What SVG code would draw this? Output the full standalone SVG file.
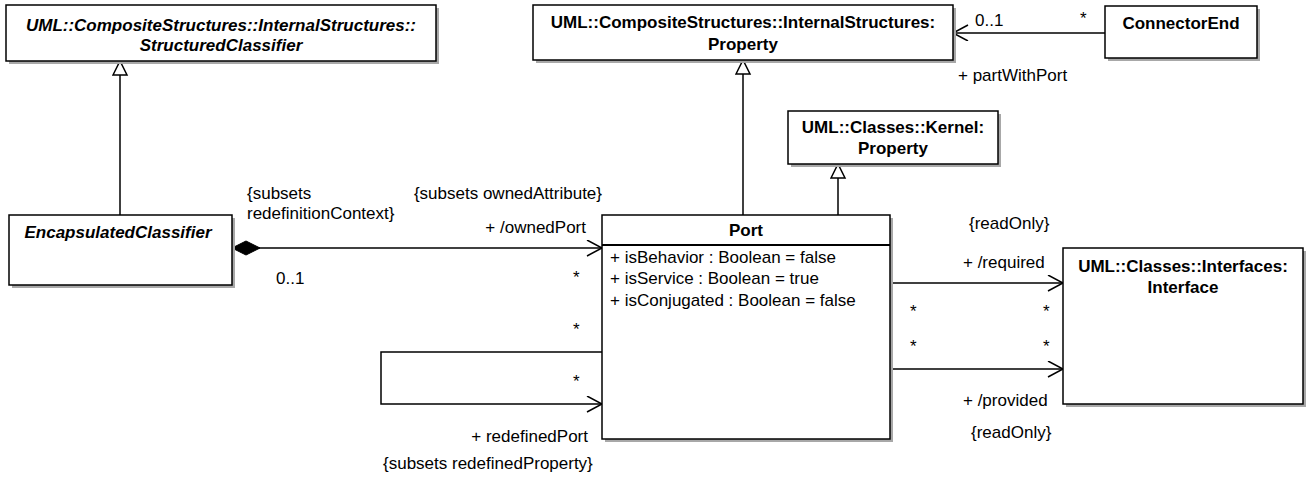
<svg xmlns="http://www.w3.org/2000/svg" width="1309" height="483" viewBox="0 0 1309 483">
<defs>
<style>
.box{fill:#fff;stroke:#000;stroke-width:1.5}
.sh{fill:#a8a8a8}
.t{font-family:"Liberation Sans",Arial,sans-serif;font-size:17px;fill:#000}
.b{font-weight:bold}
.i{font-style:italic}
.m{text-anchor:middle}
.e{text-anchor:end}
.ln{fill:none;stroke:#000;stroke-width:1.5}
</style>
<marker id="open" markerWidth="18" markerHeight="18" refX="16" refY="8" orient="auto" markerUnits="userSpaceOnUse">
<path d="M1,0 L16,8 L1,16" fill="none" stroke="#000" stroke-width="1.5"/>
</marker>
<marker id="gen" markerWidth="18" markerHeight="18" refX="15" refY="8" orient="auto" markerUnits="userSpaceOnUse">
<path d="M1,1 L15,8 L1,15 Z" fill="#fff" stroke="#000" stroke-width="1.5"/>
</marker>
<marker id="diam" markerWidth="32" markerHeight="16" refX="1" refY="8" orient="auto" markerUnits="userSpaceOnUse">
<path d="M1,8 L15,1 L29,8 L15,15 Z" fill="#000" stroke="#000" stroke-width="1"/>
</marker>
</defs>

<g id="connectors">
<line class="ln" x1="120" y1="215" x2="120" y2="61" marker-end="url(#gen)"/>
<line class="ln" x1="743" y1="215" x2="743" y2="60" marker-end="url(#gen)"/>
<line class="ln" x1="838" y1="215" x2="838" y2="164" marker-end="url(#gen)"/>
<line class="ln" x1="1105" y1="33" x2="953" y2="33" marker-end="url(#open)"/>
<line class="ln" x1="232" y1="248" x2="602" y2="248" marker-start="url(#diam)" marker-end="url(#open)"/>
<polyline class="ln" points="602,352 381,352 381,404 602,404" marker-end="url(#open)"/>
<line class="ln" x1="890" y1="283" x2="1063" y2="283" marker-end="url(#open)"/>
<line class="ln" x1="890" y1="369" x2="1063" y2="369" marker-end="url(#open)"/>
</g>

<g id="labels">
<text class="t" x="975" y="26">0..1</text>
<text class="t" x="1080" y="24">*</text>
<text class="t" x="958" y="81">+ partWithPort</text>
<text class="t" x="247" y="199">{subsets</text>
<text class="t" x="247" y="219">redefinitionContext}</text>
<text class="t e" x="602" y="199">{subsets ownedAttribute}</text>
<text class="t e" x="586" y="233">+ /ownedPort</text>
<text class="t" x="276" y="284">0..1</text>
<text class="t" x="573" y="283">*</text>
<text class="t" x="573" y="335">*</text>
<text class="t" x="573" y="387">*</text>
<text class="t e" x="588" y="442">+ redefinedPort</text>
<text class="t" x="383" y="469">{subsets redefinedProperty}</text>
<text class="t" x="969" y="229">{readOnly}</text>
<text class="t" x="963" y="268">+ /required</text>
<text class="t" x="910" y="317">*</text>
<text class="t" x="1043" y="317">*</text>
<text class="t" x="910" y="352">*</text>
<text class="t" x="1043" y="352">*</text>
<text class="t" x="963" y="406">+ /provided</text>
<text class="t" x="971" y="438">{readOnly}</text>
</g>

<g id="StructuredClassifier">
<rect class="sh" x="9" y="8" width="430" height="56"/>
<rect class="box" x="6" y="5" width="430" height="56"/>
<text class="t b i m" x="221" y="31">UML::CompositeStructures::InternalStructures::</text>
<text class="t b i m" x="221" y="51">StructuredClassifier</text>
</g>

<g id="PropertyIS">
<rect class="sh" x="536" y="8" width="420" height="55"/>
<rect class="box" x="533" y="5" width="420" height="55"/>
<text class="t b m" x="743" y="28">UML::CompositeStructures::InternalStructures:</text>
<text class="t b m" x="743" y="50">Property</text>
</g>

<g id="ConnectorEnd">
<rect class="sh" x="1108" y="9" width="152" height="52"/>
<rect class="box" x="1105" y="6" width="152" height="52"/>
<text class="t b m" x="1181" y="29">ConnectorEnd</text>
</g>

<g id="KernelProperty">
<rect class="sh" x="791" y="114" width="210" height="53"/>
<rect class="box" x="788" y="111" width="210" height="53"/>
<text class="t b m" x="893" y="133">UML::Classes::Kernel:</text>
<text class="t b m" x="893" y="154">Property</text>
</g>

<g id="EncapsulatedClassifier">
<rect class="sh" x="12" y="218" width="223" height="70"/>
<rect class="box" x="9" y="215" width="223" height="70"/>
<text class="t b i m" x="118" y="238">EncapsulatedClassifier</text>
</g>

<g id="Port">
<rect class="sh" x="605" y="218" width="288" height="224"/>
<rect class="box" x="602" y="215" width="288" height="224"/>
<line x1="602" y1="245" x2="890" y2="245" stroke="#000" stroke-width="2"/>
<text class="t b m" x="746" y="236">Port</text>
<text class="t" x="610" y="263">+ isBehavior : Boolean = false</text>
<text class="t" x="610" y="284">+ isService : Boolean = true</text>
<text class="t" x="610" y="306">+ isConjugated : Boolean = false</text>
</g>

<g id="Interface">
<rect class="sh" x="1066" y="251" width="240" height="156"/>
<rect class="box" x="1063" y="248" width="240" height="156"/>
<text class="t b m" x="1183" y="272">UML::Classes::Interfaces:</text>
<text class="t b m" x="1183" y="293">Interface</text>
</g>
</svg>
